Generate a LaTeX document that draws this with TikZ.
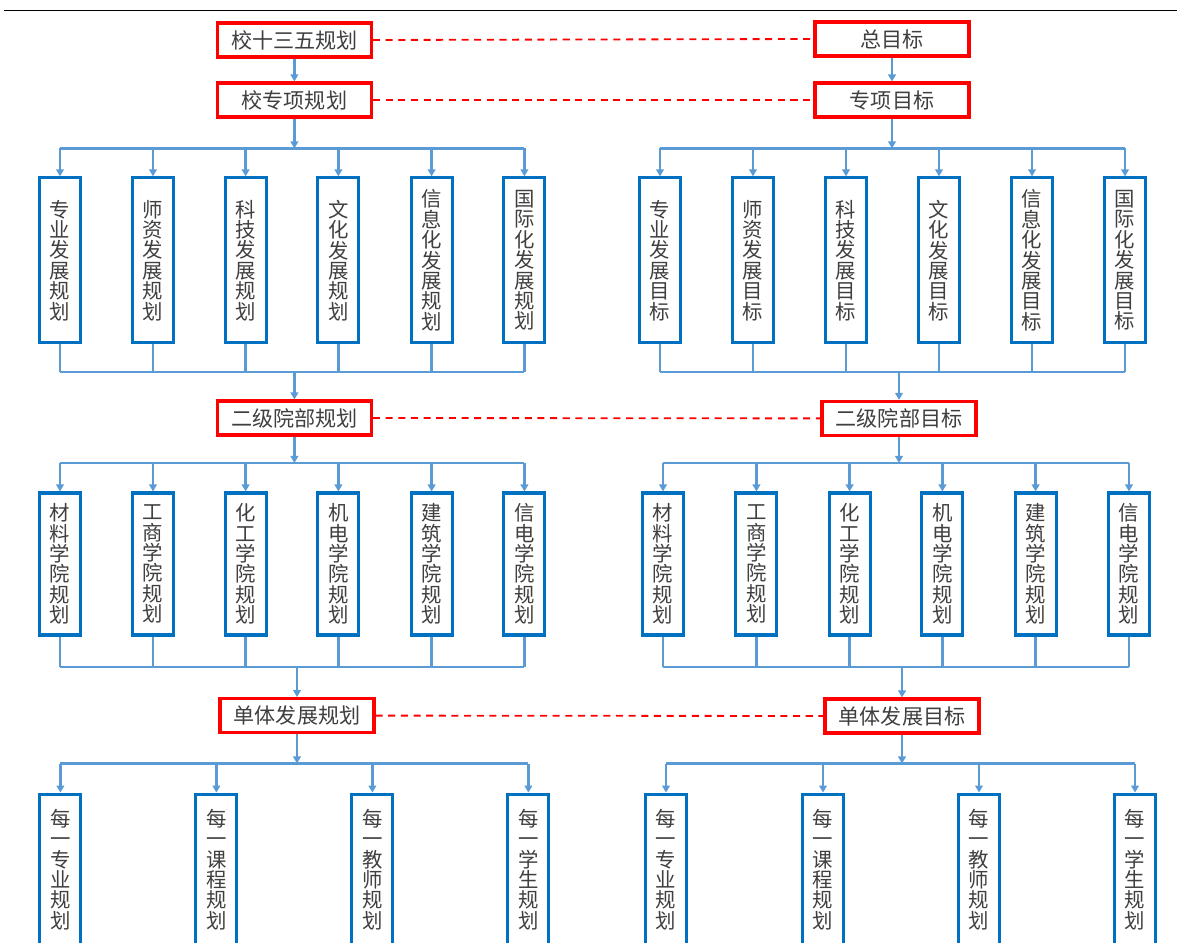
\documentclass[tikz,border=0pt]{standalone}
\usepackage{fontspec}
\setmainfont{Noto Sans CJK SC}
\usetikzlibrary{arrows.meta}

\definecolor{lineblue}{HTML}{5B9BD5}
\definecolor{boxblue}{HTML}{0070C0}
\definecolor{boxred}{HTML}{FF0000}
\definecolor{textgray}{HTML}{3F3F3F}

\tikzset{
  redbox/.style = {draw = boxred, line width = 2.2pt, fill = white, minimum width = 3.85cm,
    minimum height = 0.85cm, inner sep = 0, text = textgray, font = \fontsize{15}{15}\selectfont},
  bluebox/.style = {draw = boxblue, line width = 2.2pt, fill = white, minimum width = 1.025cm,
    inner sep = 0, align = center, text = textgray, font = \fontsize{14.5}{14.5}\selectfont},
  link/.style = {draw = lineblue, line width = 1.8pt},
  linkarrow/.style = {link, -{Triangle[length = 5pt, width = 5.5pt]}},
  dashlink/.style = {draw = boxred, line width = 1.3pt, dash pattern = on 5pt off 4pt},
}

\begin{document}
\begin{tikzpicture}
    \useasboundingbox (0, 0) rectangle (29.425, 23.55);
    \clip (0, 0) rectangle (29.425, 23.55);
    \draw [line width = 1pt] (0.1, 23.29) -- (29.425, 23.29);

    % planning side (left) and target side (right)
    \node [redbox] (lzong) at (7.36, 22.55) {校十三五规划};
    \node [redbox] (lzx) at (7.36, 21.05) {校专项规划};
    \node [redbox] (lyb) at (7.36, 13.1) {二级院部规划};
    \node [redbox] (ldt) at (7.425, 5.66) {单体发展规划};

    \node [redbox] (rzong) at (22.3, 22.575) {总目标};
    \node [redbox] (rzx) at (22.3, 21.05) {专项目标};
    \node [redbox] (ryb) at (22.475, 13.09) {二级院部目标};
    \node [redbox] (rdt) at (22.55, 5.65) {单体发展目标};

    \draw [dashlink] (lzong.east) -- (rzong.west);
    \draw [dashlink] (lzx.east) -- (rzx.west);
    \draw [dashlink] (lyb.east) -- (ryb.west);
    \draw [dashlink] (ldt.east) -- (rdt.west);

    \draw [linkarrow] (lzong) -- (lzx);
    \draw [linkarrow] (rzong) -- (rzx);

    % bus points
    \coordinate (lsplit1) at (7.36, 19.84);
    \coordinate (ljoin1) at (7.36, 14.25);
    \coordinate (lsplit2) at (7.36, 11.975);
    \coordinate (ljoin2) at (7.425, 6.875);
    \coordinate (lsplit3) at (7.425, 4.4625);
    \coordinate (rsplit1) at (22.3, 19.84);
    \coordinate (rjoin1) at (22.475, 14.25);
    \coordinate (rsplit2) at (22.475, 11.975);
    \coordinate (rjoin2) at (22.55, 6.875);
    \coordinate (rsplit3) at (22.55, 4.4625);

    % first row
    \foreach \x/\t [count = \i] in {1.5/{专\\业\\发\\展\\规\\划}, 3.825/{师\\资\\发\\展\\规\\划},
        6.14/{科\\技\\发\\展\\规\\划}, 8.46/{文\\化\\发\\展\\规\\划},
        10.79/{信\\息\\化\\发\\展\\规\\划}, 13.11/{国\\际\\化\\发\\展\\规\\划}}
      \node [bluebox, minimum height = 4.125cm] (la\i) at (\x, 17.04) {\t};
    \foreach \x/\t [count = \i] in {16.5/{专\\业\\发\\展\\目\\标}, 18.825/{师\\资\\发\\展\\目\\标},
        21.15/{科\\技\\发\\展\\目\\标}, 23.475/{文\\化\\发\\展\\目\\标},
        25.8/{信\\息\\化\\发\\展\\目\\标}, 28.125/{国\\际\\化\\发\\展\\目\\标}}
      \node [bluebox, minimum height = 4.125cm] (ra\i) at (\x, 17.04) {\t};

    % second row
    \foreach \x/\t [count = \i] in {1.5/{材\\料\\学\\院\\规\\划}, 3.825/{工\\商\\学\\院\\规\\划},
        6.14/{化\\工\\学\\院\\规\\划}, 8.46/{机\\电\\学\\院\\规\\划},
        10.79/{建\\筑\\学\\院\\规\\划}, 13.11/{信\\电\\学\\院\\规\\划}}
      \node [bluebox, minimum height = 3.55cm] (lb\i) at (\x, 9.45) {\t};
    \foreach \x/\t [count = \i] in {16.575/{材\\料\\学\\院\\规\\划}, 18.91/{工\\商\\学\\院\\规\\划},
        21.24/{化\\工\\学\\院\\规\\划}, 23.56/{机\\电\\学\\院\\规\\划},
        25.89/{建\\筑\\学\\院\\规\\划}, 28.225/{信\\电\\学\\院\\规\\划}}
      \node [bluebox, minimum height = 3.55cm] (rb\i) at (\x, 9.45) {\t};

    % third row
    \foreach \x/\t [count = \i] in {1.51/{每\\一\\专\\业\\规\\划}, 5.41/{每\\一\\课\\程\\规\\划},
        9.31/{每\\一\\教\\师\\规\\划}, 13.21/{每\\一\\学\\生\\规\\划}}
      \node [bluebox, minimum height = 3.775cm] (lc\i) at (\x, 1.81) {\t};
    \foreach \x/\t [count = \i] in {16.65/{每\\一\\专\\业\\规\\划}, 20.575/{每\\一\\课\\程\\规\\划},
        24.475/{每\\一\\教\\师\\规\\划}, 28.375/{每\\一\\学\\生\\规\\划}}
      \node [bluebox, minimum height = 3.775cm] (rc\i) at (\x, 1.81) {\t};

    % fan out and gather
    \draw [linkarrow] (lzx) -- (lsplit1);
    \draw [link] (la1 |- lsplit1) -- (la6 |- lsplit1);
    \draw [link] (la1 |- ljoin1) -- (la6 |- ljoin1);
    \draw [linkarrow] (rzx) -- (rsplit1);
    \draw [link] (ra1 |- rsplit1) -- (ra6 |- rsplit1);
    \draw [link] (ra1 |- rjoin1) -- (ra6 |- rjoin1);
    \foreach \i in {1, ..., 6} {
      \draw [linkarrow] (la\i |- lsplit1) -- (la\i);
      \draw [link] (la\i) -- (la\i |- ljoin1);
      \draw [linkarrow] (ra\i |- rsplit1) -- (ra\i);
      \draw [link] (ra\i) -- (ra\i |- rjoin1);
    }
    \draw [linkarrow] (ljoin1) -- (lyb);
    \draw [linkarrow] (rjoin1) -- (ryb);

    \draw [linkarrow] (lyb) -- (lsplit2);
    \draw [link] (lb1 |- lsplit2) -- (lb6 |- lsplit2);
    \draw [link] (lb1 |- ljoin2) -- (lb6 |- ljoin2);
    \draw [linkarrow] (ryb) -- (rsplit2);
    \draw [link] (rb1 |- rsplit2) -- (rb6 |- rsplit2);
    \draw [link] (rb1 |- rjoin2) -- (rb6 |- rjoin2);
    \foreach \i in {1, ..., 6} {
      \draw [linkarrow] (lb\i |- lsplit2) -- (lb\i);
      \draw [link] (lb\i) -- (lb\i |- ljoin2);
      \draw [linkarrow] (rb\i |- rsplit2) -- (rb\i);
      \draw [link] (rb\i) -- (rb\i |- rjoin2);
    }
    \draw [linkarrow] (ljoin2) -- (ldt);
    \draw [linkarrow] (rjoin2) -- (rdt);

    \draw [linkarrow] (ldt) -- (lsplit3);
    \draw [link] (lc1 |- lsplit3) -- (lc4 |- lsplit3);
    \draw [linkarrow] (rdt) -- (rsplit3);
    \draw [link] (rc1 |- rsplit3) -- (rc4 |- rsplit3);
    \foreach \i in {1, ..., 4} {
      \draw [linkarrow] (lc\i |- lsplit3) -- (lc\i);
      \draw [linkarrow] (rc\i |- rsplit3) -- (rc\i);
    }
\end{tikzpicture}
\end{document}
